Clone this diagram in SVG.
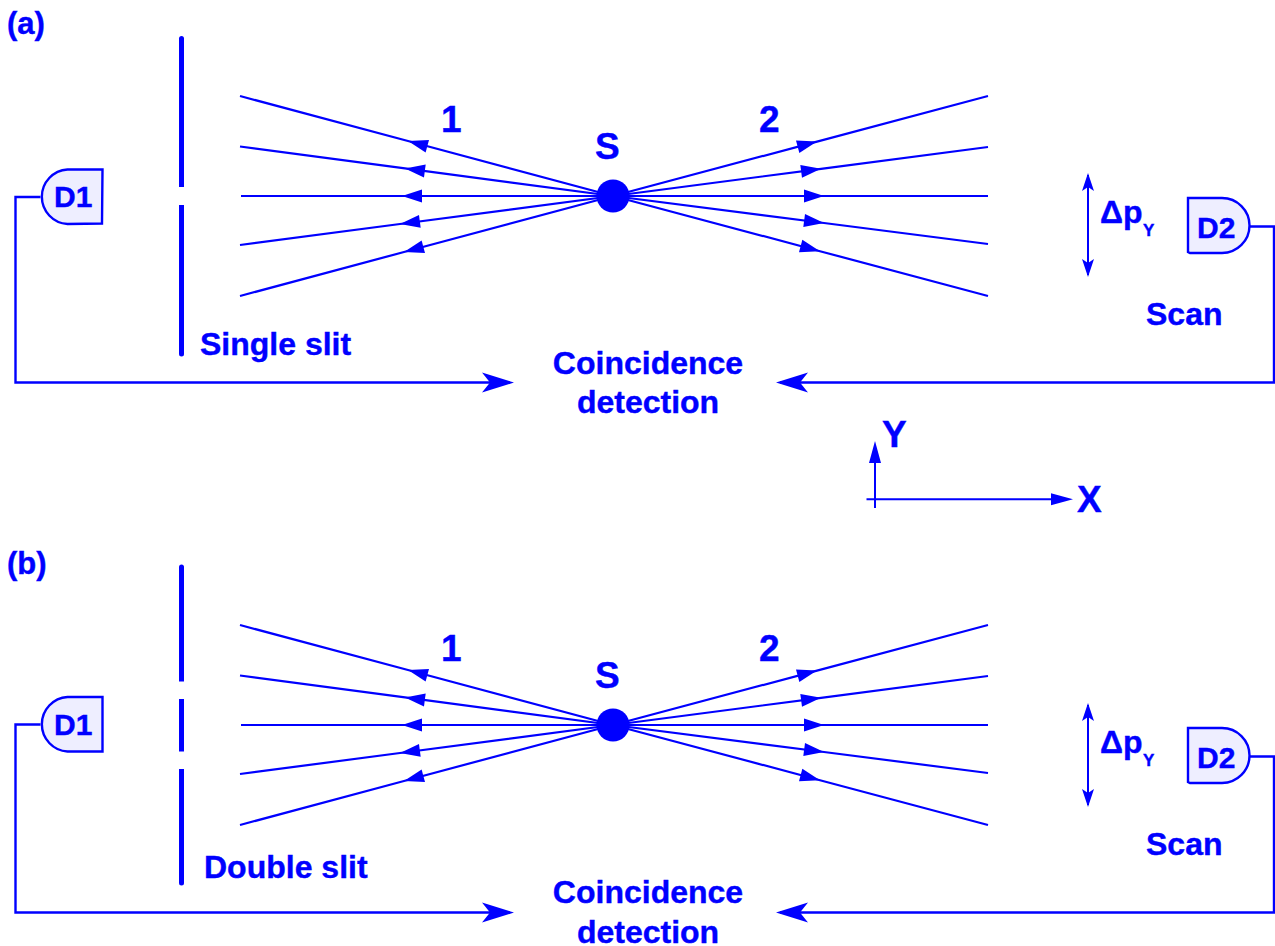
<svg xmlns="http://www.w3.org/2000/svg" width="1275" height="946" viewBox="0 0 1275 946">
<style>
text{font-family:"Liberation Sans",Arial,sans-serif;font-weight:bold;fill:#0000ff;stroke:#0000ff;stroke-width:.4}
.m{text-anchor:middle}
.l{font-size:31px}.t{font-size:32px}.w{font-size:32px}.n{font-size:37px}.d{font-size:30px}.s{font-size:32px}.sub{font-size:17px}
.ray{fill:none;stroke:#0000ff;stroke-width:2.2;marker-mid:url(#ah)}
.wire{fill:none;stroke:#0000ff;stroke-width:2.4;marker-end:url(#big)}
.det{fill:#eeeeff;stroke:#0000ff;stroke-width:2.4}
.slit{fill:#0000ff}
.dbl{fill:none;stroke:#0000ff;stroke-width:2;marker-start:url(#dp);marker-end:url(#dp)}
.ax{fill:none;stroke:#0000ff;stroke-width:2}
</style>
<defs>
<marker id="ah" markerUnits="userSpaceOnUse" markerWidth="24" markerHeight="16" refX="20" refY="6.5" orient="auto" overflow="visible"><path d="M0 0L20 6.5L0 13Z" fill="#0000ff"/></marker>
<marker id="big" markerUnits="userSpaceOnUse" markerWidth="36" markerHeight="22" refX="28" refY="10" orient="auto" overflow="visible"><path d="M0 0L32 10L0 20L8 10Z" fill="#0000ff"/></marker>
<marker id="dp" markerUnits="userSpaceOnUse" markerWidth="20" markerHeight="14" refX="16" refY="6" orient="auto-start-reverse" overflow="visible"><path d="M0 0L18 6L0 12L4 6Z" fill="#0000ff"/></marker>
</defs>

<g id="connectors">
<path class="ray" d="M613 196L408 141L240 96"/>
<path class="ray" d="M613 196L405 168.4L240 146.5"/>
<path class="ray" d="M613 196L402 196L241 196"/>
<path class="ray" d="M613 196L400 224L240 245"/>
<path class="ray" d="M613 196L404 252L240 296"/>
<path class="ray" d="M613 196L817 141.6L988 96"/>
<path class="ray" d="M613 196L821 168.8L988 147"/>
<path class="ray" d="M613 196L824 196L988 196"/>
<path class="ray" d="M613 196L824 223L988 244"/>
<path class="ray" d="M613 196L820 251.2L988 296"/>
<path class="wire" d="M40.5 197H15.5V382.5H510"/>
<path class="wire" d="M1250 226.5H1274V382.5H780"/>
<path class="dbl" d="M1088 175V275"/>

<path class="ray" d="M613 725L408 670L240 625"/>
<path class="ray" d="M613 725L405 697.4L240 675.5"/>
<path class="ray" d="M613 725L402 725L241 725"/>
<path class="ray" d="M613 725L400 753L240 774"/>
<path class="ray" d="M613 725L404 781L240 825"/>
<path class="ray" d="M613 725L817 670.6L988 625"/>
<path class="ray" d="M613 725L821 697.8L988 676"/>
<path class="ray" d="M613 725L824 725L988 725"/>
<path class="ray" d="M613 725L824 752L988 773"/>
<path class="ray" d="M613 725L820 780.2L988 825"/>
<path class="wire" d="M40.5 724.5H15.5V912.5H510"/>
<path class="wire" d="M1250 756.5H1274V912.5H780"/>
<path class="dbl" d="M1088 705V805"/>

<g id="axes">
<path class="ax" d="M875 508V460"/>
<path d="M875 441L881 463H869Z" fill="#0000ff"/>
<path class="ax" d="M866.5 499.3H1055"/>
<path d="M1073 499.3L1051 493.3V505.3Z" fill="#0000ff"/>
</g>
</g>

<g id="panel-a-label"><text class="l" x="7" y="34">(a)</text></g>
<g id="slit-a">
<path class="slit" d="M179 187V38.5a2.5 2.5 0 0 1 5 0V187Z"/>
<path class="slit" d="M179 205V354a2.5 2.5 0 0 0 5 0V205Z"/>
<text class="t" x="200" y="355">Single slit</text>
</g>
<g id="d1-a"><path class="det" d="M102.5 169.5H67.5A27.3 27.3 0 0 0 67.5 224L102 223.5Z"/><text class="d" x="54" y="207">D1</text></g>
<g id="d2-a"><path class="det" d="M1188 198H1222A27.5 27.5 0 0 1 1222 253H1190L1188 252Z"/><text class="d" x="1197" y="238">D2</text></g>
<g id="source-a"><circle cx="613" cy="196" r="16.5" fill="#0000ff"/><text class="n" x="595" y="159">S</text></g>
<g id="beam-labels-a"><text class="n" x="441" y="132">1</text><text class="n" x="759" y="132">2</text></g>
<g id="dp-a"><text class="s" x="1100" y="223">Δp</text><text class="sub" x="1143" y="236">Y</text></g>
<g id="scan-a"><text class="s" x="1146" y="325">Scan</text></g>
<g id="coincidence-a"><text class="w m" x="648" y="374">Coincidence</text><text class="w m" x="648" y="413">detection</text></g>
<g id="axis-labels"><text class="n" x="882" y="447">Y</text><text class="n" x="1077" y="512">X</text></g>

<g id="panel-b-label"><text class="l" x="7" y="574">(b)</text></g>
<g id="slit-b">
<path class="slit" d="M179 681.5V567a2.5 2.5 0 0 1 5 0V681.5Z"/>
<rect class="slit" x="179" y="699" width="5" height="52.5"/>
<path class="slit" d="M179 769V883a2.5 2.5 0 0 0 5 0V769Z"/>
<text class="t" x="204" y="878">Double slit</text>
</g>
<g id="d1-b"><path class="det" d="M102.5 697H67.5A27.3 27.3 0 0 0 67.5 751.5H102.5Z"/><text class="d" x="54" y="735">D1</text></g>
<g id="d2-b"><path class="det" d="M1188 728H1222A27.5 27.5 0 0 1 1222 783H1190L1188 782Z"/><text class="d" x="1197" y="768">D2</text></g>
<g id="source-b"><circle cx="613" cy="725" r="16.5" fill="#0000ff"/><text class="n" x="595" y="688">S</text></g>
<g id="beam-labels-b"><text class="n" x="441" y="661">1</text><text class="n" x="759" y="661">2</text></g>
<g id="dp-b"><text class="s" x="1100" y="753">Δp</text><text class="sub" x="1143" y="766">Y</text></g>
<g id="scan-b"><text class="s" x="1146" y="855">Scan</text></g>
<g id="coincidence-b"><text class="w m" x="648" y="903">Coincidence</text><text class="w m" x="648" y="943">detection</text></g>
</svg>
